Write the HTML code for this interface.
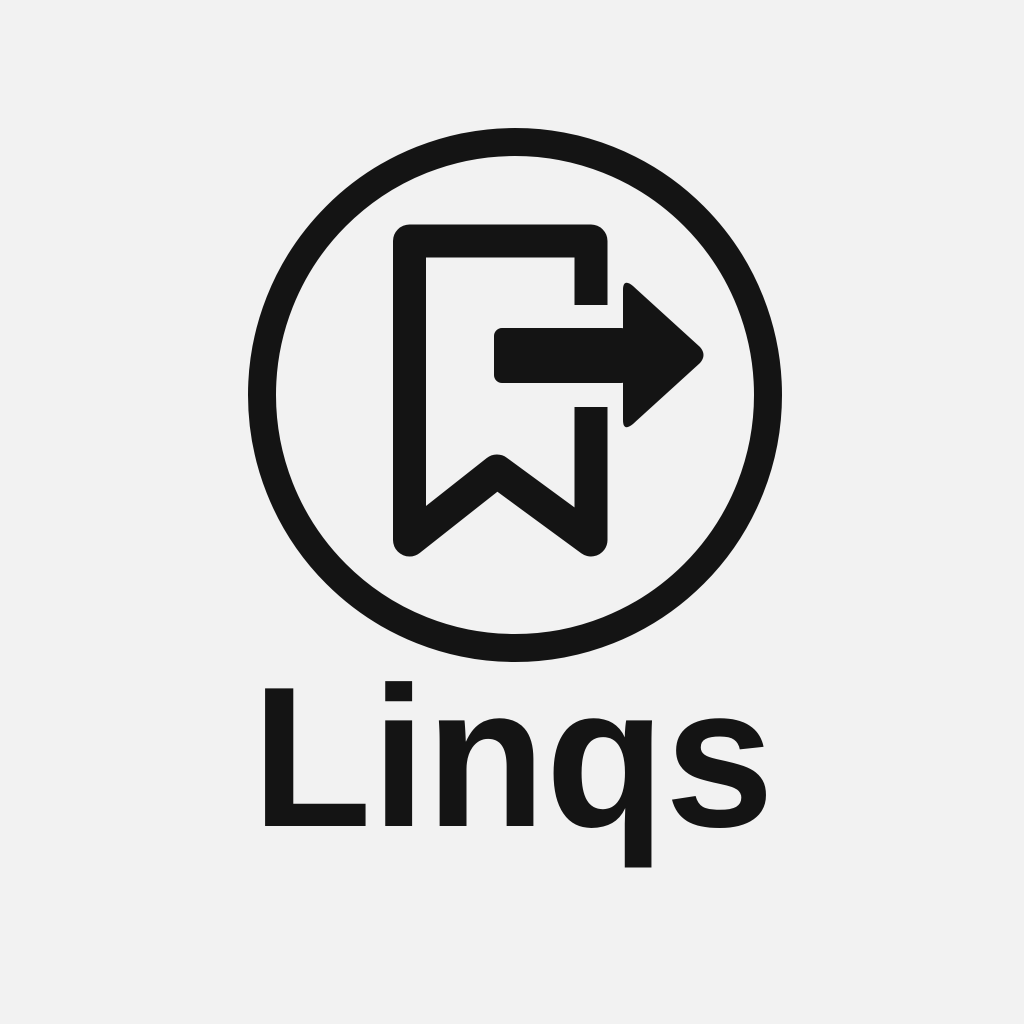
<!DOCTYPE html>
<html><head><meta charset="utf-8"><style>
html,body{margin:0;padding:0;background:#f2f2f2;}
svg{display:block;}
</style></head><body>
<svg width="1024" height="1024" viewBox="0 0 1024 1024" xmlns="http://www.w3.org/2000/svg">
<rect x="0" y="0" width="1024" height="1024" fill="#f2f2f2"/>
<circle cx="515" cy="395" r="253" fill="none" stroke="#141414" stroke-width="28"/>
<path d="M591 305 L591 241 L409.5 241 L409.5 540 L497 471 L591 540 L591 407" fill="none" stroke="#141414" stroke-width="33" stroke-linejoin="round"/>
<path d="M574.5 290 h33 v15 h-33z M574.5 407 h33 v15 h-33z" fill="#141414"/>
<rect x="494" y="328" width="135" height="55" rx="8" fill="#141414"/>
<path d="M623 290 Q623 278 633 286 L700 347 Q707 355 700 363 L633 424 Q623 432 623 420 Z" fill="#141414"/>
<text x="252" y="826" textLength="522" lengthAdjust="spacingAndGlyphs" font-family="Liberation Sans, sans-serif" font-weight="bold" font-size="200" fill="#141414">Linqs</text>
</svg>
</body></html>
